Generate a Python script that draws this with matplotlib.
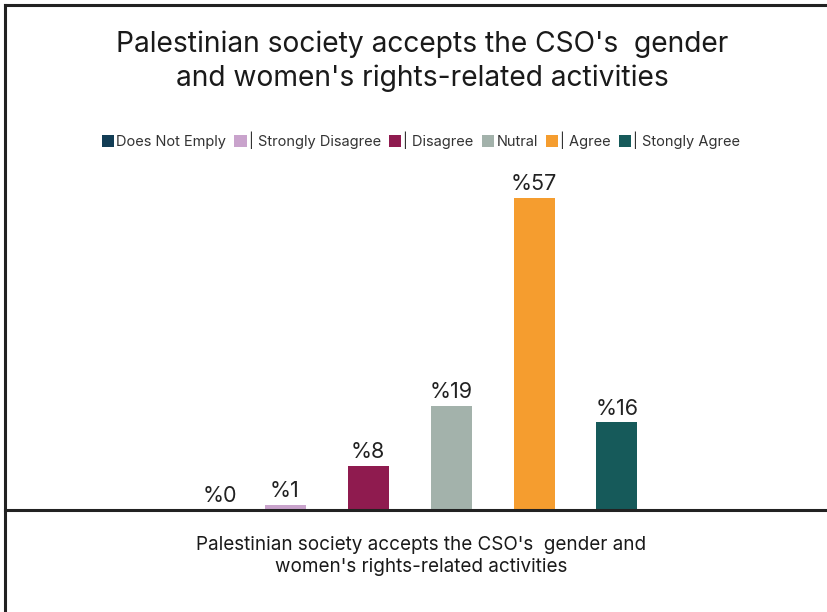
import matplotlib
matplotlib.use("Agg")
import matplotlib.pyplot as plt
from matplotlib.lines import Line2D

plt.rcParams['font.family'] = ['Inter', 'DejaVu Sans']

# survey answers
labels = ["Does Not Emply", "| Strongly Disagree", "| Disagree", "Nutral", "| Agree", "| Stongly Agree"]
values = [0, 1, 8, 19, 57, 16]
colors = ["#123d55", "#c9a3cc", "#8f1b4f", "#a3b2ab", "#f59d2f", "#165a5a"]

title = "Palestinian society accepts the CSO's  gender\nand women's rights-related activities"
category = "Palestinian society accepts the CSO's  gender and\nwomen's rights-related activities"

W, H = 827, 612
fig = plt.figure(figsize=(W / 100, H / 100), dpi=100)

# axes: left edge at the frame, bottom at the baseline
ax_left = 5 / W
ax_bottom = (H - 510) / H
ax_h = 330 / H
ax = fig.add_axes([ax_left, ax_bottom, 1 - ax_left, ax_h])

px_per_bar = 83
xmin = -(202 - 5) / px_per_bar
xmax = xmin + (W - 5) / px_per_bar
ax.set_xlim(xmin, xmax)
ax.set_ylim(0, 330 / 5.47)

x = list(range(len(values)))
bars = ax.bar(x, values, width=41 / px_per_bar, color=colors)

for i, v in enumerate(values):
    xi = i + (0.22 if v == 0 else 0)
    ax.text(xi, v + 0.7, "%" + str(v), ha="center", va="bottom",
            fontsize=15.5, color="#222222")

for s in ["top", "right", "left"]:
    ax.spines[s].set_visible(False)
ax.spines["bottom"].set_color("#222222")
ax.spines["bottom"].set_linewidth(2.2)
ax.set_xticks([])
ax.set_yticks([])

# frame lines
fig.add_artist(Line2D([5 / W, 1], [1 - 5 / H, 1 - 5 / H], color="#222222", lw=2.2))
fig.add_artist(Line2D([5 / W, 5 / W], [0, 1 - 5 / H], color="#222222", lw=2.2))

fig.text(422 / W, 1 - 61 / H, title, ha="center", va="center",
         fontsize=20.3, color="#1a1a1a", linespacing=1.3)

fig.text(421 / W, 1 - 556 / H, category, ha="center", va="center",
         fontsize=13.6, color="#1a1a1a", linespacing=1.25)

fig.legend(bars, labels, loc="center", bbox_to_anchor=(421 / W, 1 - 140 / H),
           ncol=6, frameon=False, fontsize=10.5, handlelength=0.85,
           handleheight=0.85, handletextpad=0.15, columnspacing=0.55,
           labelcolor="#333333")

fig.savefig("out.png", dpi=100)
